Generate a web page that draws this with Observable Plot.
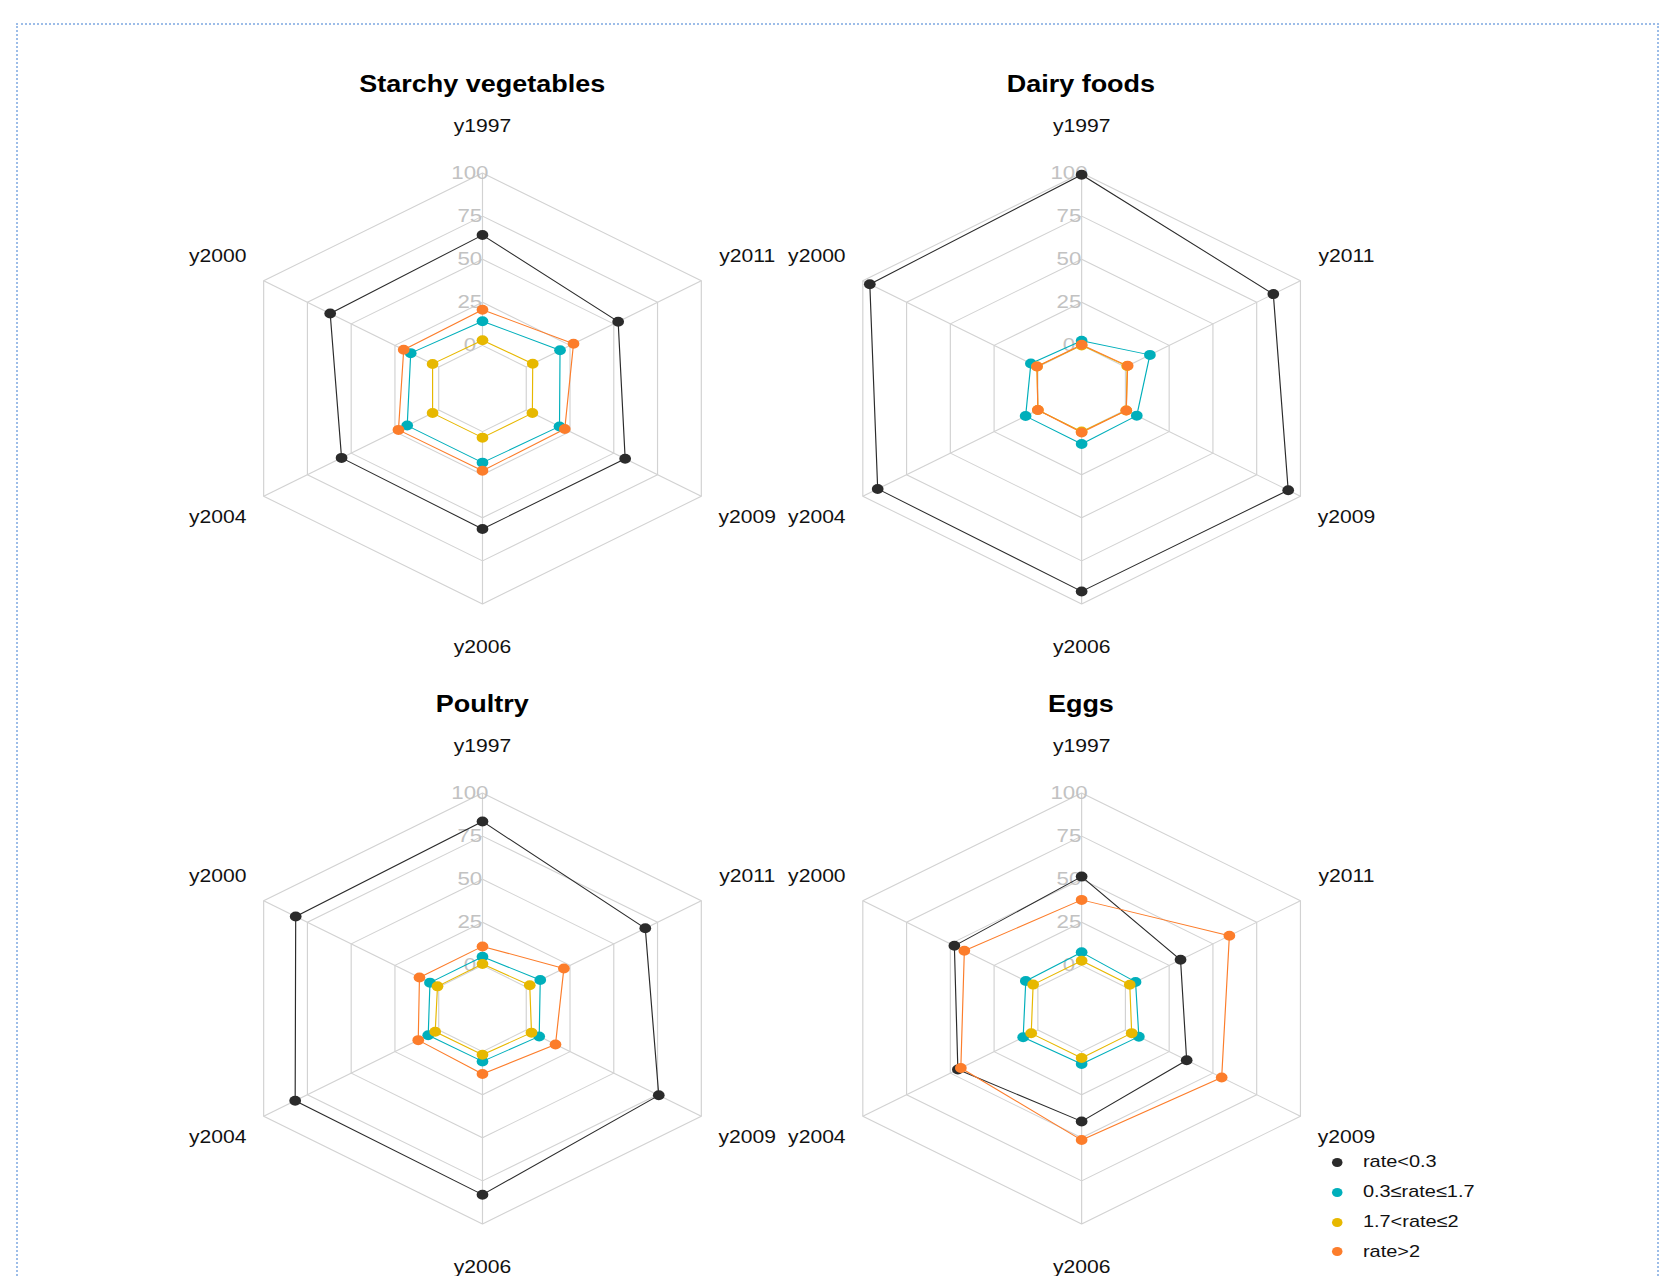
<!DOCTYPE html>
<html>
<head>
<meta charset="utf-8">
<script src="https://cdn.jsdelivr.net/npm/d3@7"></script>
<script src="https://cdn.jsdelivr.net/npm/@observablehq/plot@0.6"></script>
<style>
html, body { margin: 0; padding: 0; background: #fff; width: 1666px; height: 1276px; overflow: hidden;
  font-family: "Liberation Sans", Arial, sans-serif; }
#frame { position: absolute; left: 16px; top: 23px; width: 1643px; height: 1320px;
  border: 2px dotted #9dbde8; box-sizing: border-box; }
#stage { position: absolute; left: 0; top: 0; width: 1421px; height: 1276px;
  transform: scaleX(1.1725); transform-origin: 0 0; }
.title { position: absolute; width: 400px; text-align: center; font-weight: bold;
  font-size: 23px; line-height: 28px; color: #000; }
.panel { position: absolute; }
.legend { position: absolute; font-size: 17px; color: #111; }
.legend .row { height: 29.8px; display: flex; align-items: center; white-space: nowrap; }
.legend .dot { width: 9px; height: 9px; border-radius: 50%; margin-right: 17px; flex: none; }
</style>
</head>
<body>
<div id="frame"></div>
<div id="stage"></div>
<script>
// ---- data ----
const years = ["y1997", "y2000", "y2004", "y2006", "y2009", "y2011"];
const groups = ["rate<0.3", "0.3≤rate≤1.7", "1.7<rate≤2", "rate>2"];
const groupColors = ["#2b2b2b", "#00AFBB", "#E7B800", "#FC7D2B"];
const gridTicks = [0, 25, 50, 75, 100];
const panelTitles = ["Starchy vegetables", "Dairy foods", "Poultry", "Eggs"];

// values per group (rows follow `groups`), columns follow `years`
const starchy = [
  [64, 62, 55.5, 56.5, 56.5, 52.5],
  [14, 16, 18, 18, 19, 19.3],
  [3, 3.5, 3.5, 3.5, 3.5, 3.7],
  [20.7, 20, 23, 22.7, 22, 27]
];
const dairy = [
  [99, 96, 91.5, 92.7, 93, 84.5],
  [2.7, 4, 7, 7.2, 6.5, 14],
  [0, 0.5, 0, 0, 0.5, 1],
  [0.4, 0.5, 0, 0.5, 0.5, 1.3]
];
const poultry = [
  [83.5, 81.7, 82, 83, 75.7, 68],
  [5, 5, 6, 5.7, 7.4, 8],
  [0.8, 0.7, 2, 1.8, 3, 2],
  [11, 11, 11.7, 13, 16.7, 21.5]
];
const eggs = [
  [51.5, 47.7, 45.7, 40.5, 35, 31.5],
  [7.6, 6.9, 8.4, 7.2, 7.7, 5.8],
  [2.7, 2.7, 3.8, 3.7, 3.6, 2.5],
  [38, 42, 44, 51.3, 55, 59.4]
];
const panelValues = [starchy, dairy, poultry, eggs];

// ---- layout ----
const S = 1.1725;          // horizontal stretch of the whole figure
const K = 215.5;           // px per radial unit (value 100 ring)
const W = 600, H = 570;
const centers = [[482.3 / S, 387.8], [1080.9 / S, 387.8], [482.3 / S, 1007.8], [1080.9 / S, 1007.8]];
const titleY = [84, 84, 704.4, 704.4];

const rad = v => (v + 25) / 125;
const ang = i => Math.PI / 2 + i * Math.PI / 3;
const px = (v, i) => rad(v) * Math.cos(ang(i));
const py = (v, i) => rad(v) * Math.sin(ang(i));

const stage = document.getElementById("stage");

panelValues.forEach((vals, p) => {
  const [cx, cy] = centers[p];

  const t = document.createElement("div");
  t.className = "title";
  t.textContent = panelTitles[p];
  t.style.left = (cx - 200) + "px";
  t.style.top = (titleY[p] - 14) + "px";
  stage.appendChild(t);

  const rings = gridTicks.flatMap(tk => years.map((yr, i) => ({tk, x: px(tk, i), y: py(tk, i)})));
  const spokes = years.map((yr, i) => ({x1: px(0, i), y1: py(0, i), x2: px(100, i), y2: py(100, i)}));
  const labels = years.map((yr, i) => ({yr, x: 1.21 * Math.cos(ang(i)), y: 1.21 * Math.sin(ang(i))}));
  const rows = groups.flatMap((g, gi) => years.map((yr, i) => ({g, yr, v: vals[gi][i], x: px(vals[gi][i], i), y: py(vals[gi][i], i)})));

  const chart = Plot.plot({
    width: W, height: H, margin: 0,
    style: {fontFamily: "'Liberation Sans', Arial, sans-serif", overflow: "visible", background: "transparent"},
    x: {domain: [-(W / 2) / K, (W / 2) / K], axis: null},
    y: {domain: [-(H / 2) / K, (H / 2) / K], axis: null},
    color: {domain: groups, range: groupColors},
    marks: [
      Plot.line(rings, {x: "x", y: "y", z: "tk", curve: "linear-closed", stroke: "#d2d2d2", strokeWidth: 1}),
      Plot.link(spokes, {x1: "x1", y1: "y1", x2: "x2", y2: "y2", stroke: "#d2d2d2", strokeWidth: 1}),
      Plot.text(gridTicks, {x: -0.05, y: d => rad(d), text: d => String(d), fill: "#c2c2c2", fontSize: 19, textAnchor: "middle"}),
      Plot.text(labels, {x: "x", y: "y", text: "yr", fill: "#111", fontSize: 18, textAnchor: "middle", dy: -2}),
      Plot.line(rows, {x: "x", y: "y", z: "g", stroke: "g", curve: "linear-closed", strokeWidth: 1}),
      Plot.dot(rows, {x: "x", y: "y", fill: "g", r: 5})
    ]
  });
  const wrap = document.createElement("div");
  wrap.className = "panel";
  wrap.style.left = (cx - W / 2) + "px";
  wrap.style.top = (cy - H / 2) + "px";
  wrap.appendChild(chart);
  stage.appendChild(wrap);
});

// legend
const lg = document.createElement("div");
lg.className = "legend";
lg.style.left = (1337.7 / S - 4.5) + "px";
lg.style.top = (1162.5 - 14.9) + "px";
groups.forEach((g, i) => {
  const row = document.createElement("div");
  row.className = "row";
  const dot = document.createElement("span");
  dot.className = "dot";
  dot.style.background = groupColors[i];
  const lab = document.createElement("span");
  lab.textContent = g;
  row.appendChild(dot);
  row.appendChild(lab);
  lg.appendChild(row);
});
stage.appendChild(lg);
</script>
</body>
</html>
